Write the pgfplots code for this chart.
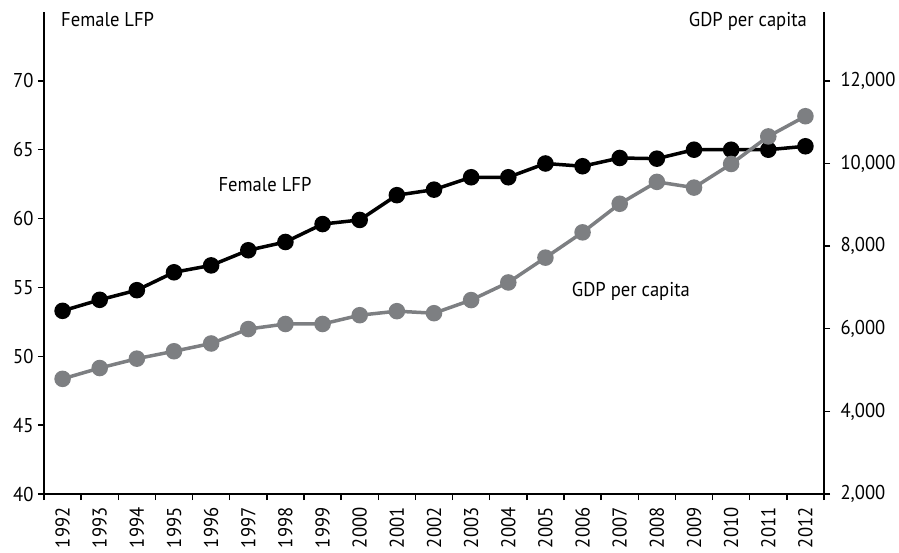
\documentclass[border=0pt]{standalone}
\usepackage{fontspec}
\setmainfont{PT Sans}[FakeStretch=0.93]
\usepackage{pgfplots}
\pgfplotsset{compat=1.18}
\definecolor{gdpgray}{RGB}{125,127,130}
\begin{document}
\begin{tikzpicture}[font=\fontsize{20}{24}\selectfont]
\pgfplotsset{
  common/.style={
    scale only axis, width=780pt, height=482pt,
    xmin=-0.5, xmax=20.5, clip=false,
    tick align=outside,
    major tick length=6pt, minor tick length=6pt,
    tick style={black, line width=1.5pt},
    /pgf/number format/assume math mode=true,
  }
}
\begin{axis}[common, name=ax,
  ymin=40, ymax=75,
  axis x line*=bottom, axis y line*=left,
  axis line style={-, line width=2.5pt},
  ytick={40,45,...,70},
  xtick={0,...,20},
  xticklabels={1992,1993,1994,1995,1996,1997,1998,1999,2000,2001,2002,2003,2004,2005,2006,2007,2008,2009,2010,2011,2012},
  major x tick style={draw=none},
  minor xtick={-0.5,0.5,...,20.5},
  xticklabel style={rotate=90, anchor=east, xshift=-4pt},
  yticklabel style={xshift=-1pt},
]
\addplot[black, line width=3.5pt, mark=*, mark size=6.5pt] coordinates {
(0,53.3) (1,54.1) (2,54.8) (3,56.1) (4,56.6) (5,57.7) (6,58.3) (7,59.6) (8,59.9) (9,61.7) (10,62.1)
(11,63.0) (12,63.0) (13,64.0) (14,63.8) (15,64.4) (16,64.35) (17,65.0) (18,65.0) (19,65.0) (20,65.25)
};
\node[anchor=north west, inner sep=0pt] at (rel axis cs:0,1) [xshift=17pt] {Female LFP};
\node[anchor=north east, inner sep=0pt] at (rel axis cs:1,1) [xshift=-17pt] {GDP per capita};
\node at (axis cs:5.45,62.5) {Female LFP};
\node at (axis cs:15.3,54.7) {GDP per capita};
\end{axis}
\begin{axis}[common,
  ymin=2000, ymax=13666.67,
  axis y line*=right, axis x line=none,
  axis line style={-, line width=2.5pt},
  ytick={2000,4000,...,12000},
  scaled y ticks=false,
  yticklabel style={/pgf/number format/1000 sep={,}, xshift=7pt},
]
\addplot[gdpgray, line width=3.5pt, mark=*, mark size=6.5pt] coordinates {
(0,4787) (1,5049) (2,5276) (3,5455) (4,5643) (5,5993) (6,6115) (7,6115) (8,6328) (9,6425) (10,6376)
(11,6694) (12,7120) (13,7721) (14,8333) (15,9025) (16,9555) (17,9416) (18,9988) (19,10655) (20,11144)
};
\end{axis}
\pgfresetboundingbox
\path[use as bounding box] ([xshift=-44pt,yshift=-58pt]ax.south west) rectangle ([xshift=75pt,yshift=12pt]ax.north east);
\end{tikzpicture}
\end{document}
